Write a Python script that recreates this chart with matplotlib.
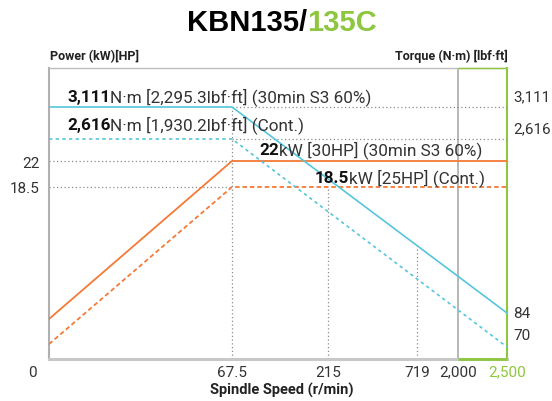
import numpy as np
import matplotlib
matplotlib.use("Agg")
import matplotlib.pyplot as plt

# values
speed_ticks = [67.5, 215, 719, 2000, 2500]
speed_tick_labels = ["67.5", "215", "719", "2,000", "2,500"]
power_ticks = [18.5, 22]
power_tick_labels = ["18.5", "22"]
torque_ticks = [3111, 2616, 84, 70]
torque_tick_labels = ["3,111", "2,616", "84", "70"]

power_speed = [0, 67.5, 2500]
power_s3 = [4.3, 22, 22]
power_cont = [1.6, 18.5, 18.5]

torque_speed = [0, 67.5, 2500]
torque_s3 = [3111, 3111, 84]
torque_cont = [2616, 2616, 70]

ORANGE = "#f47a36"
CYAN = "#55c6dc"
GREEN = "#8dc63f"
GRAY = "#aaaaaa"
TXT = "#333333"

# the chart is schematic: axes are piecewise, not linear
sx_val = [0, 67.5, 215, 719, 2000, 2500]
sx_pos = [0, 183, 279, 368, 409, 458]
sp_val = [0, 18.5, 22, 34.5]
sp_pos = [0, 172, 198, 291]
st_val = [65, 70, 84, 2616, 3111, 3714]
st_pos = [0, 12, 46, 220, 252, 291]


def piecewise(vals, pos):
    fwd = lambda v: np.interp(v, vals, pos)
    inv = lambda p: np.interp(p, pos, vals)
    return fwd, inv


fx, fx_inv = piecewise(sx_val, sx_pos)
fp, fp_inv = piecewise(sp_val, sp_pos)
ft, ft_inv = piecewise(st_val, st_pos)

W, H = 552, 402
fig = plt.figure(figsize=(W / 100, H / 100), dpi=100)
renderer = fig.canvas.get_renderer()

ax = fig.add_axes([49 / W, 42 / H, 458 / W, 291 / H])
ax.set_xscale("function", functions=(fx, fx_inv))
ax.set_yscale("function", functions=(fp, fp_inv))
ax.set_xlim(0, 2500)
ax.set_ylim(0, 34.5)

ax2 = ax.twinx()
ax2.set_yscale("function", functions=(ft, ft_inv))
ax2.set_ylim(65, 3714)
ax2.set_yticks([])
for s in ax2.spines.values():
    s.set_visible(False)

# guide lines
dot = dict(color="#8c8c8c", lw=0.9, ls=(0, (1, 2)), zorder=1)
ax.hlines(power_ticks, 0, 67.5, **dot)
ax2.hlines(torque_ticks[:2], 67.5, 2500, **dot)
ax.axvline(67.5, ymax=ft(3111) / 291, **dot)
ax.axvline(215, ymax=fp(18.5) / 291, **dot)
# 719 line stops at the S3 torque curve
u0, u1 = fx(67.5), fx(2500)
t719 = np.interp(fx(719), [u0, u1], [ft(3111), ft(84)])
ax.axvline(719, ymax=t719 / 291, **dot)
ax.axvline(2000, color=GRAY, lw=1.2, zorder=1)

# curves
ax.plot(power_speed, power_s3, color=ORANGE, lw=1.3, zorder=3)
ax.plot(power_speed, power_cont, color=ORANGE, lw=1.3, dashes=(2.5, 1.6), zorder=3)
ax2.plot(torque_speed, torque_s3, color=CYAN, lw=1.2, zorder=3)
ax2.plot(torque_speed, torque_cont, color=CYAN, lw=1.2, dashes=(2, 2), zorder=3)

# frame
ax.spines["left"].set_color("#b0b0b0")
ax.spines["left"].set_linewidth(1.5)
ax.spines["top"].set_color("#bdbdbd")
ax.spines["top"].set_linewidth(1.0)
ax.spines["bottom"].set_color("#c8c8c8")
ax.spines["bottom"].set_linewidth(2.2)
ax.spines["right"].set_color(GREEN)
ax.spines["right"].set_linewidth(1.5)
ax.hlines([0, 1], 2000, 2500, transform=ax.get_xaxis_transform(),
          color=GREEN, lw=[2.0, 1.0], clip_on=False, zorder=5)

ax.set_xticks(speed_ticks)
ax.set_xticklabels(speed_tick_labels)
ax.set_yticks(power_ticks)
ax.set_yticklabels(power_tick_labels)
ax.minorticks_off()
ax.tick_params(axis="both", length=0, labelsize=11, labelcolor=TXT,
               labelfontfamily="Roboto")
ax.tick_params(axis="x", pad=4)
ax.tick_params(axis="y", pad=7)
ax.get_xticklabels()[-1].set_color(GREEN)


def rich(px, py, parts, size=11, ha="left", family="Roboto"):
    texts = []
    x = px
    for s, w, c in parts:
        t = fig.text(x / W, 1 - py / H, s, fontsize=size, fontweight=w,
                     color=c, family=family, va="baseline", ha="left")
        x += t.get_window_extent(renderer).width
        texts.append(t)
    if ha == "center":
        shift = (x - px) / 2
        for t in texts:
            xx, yy = t.get_position()
            t.set_position((xx - shift / W, yy))
    return texts


# title
rich(282, 31, [("KBN135/", "bold", "black"), ("135C", "bold", GREEN)],
     size=21, ha="center", family="Liberation Sans")

# axis titles
fig.text(50 / W, 1 - 60 / H, "Power (kW)[HP]", fontsize=9, fontweight="bold",
         color="#222222", family="Roboto", va="baseline", ha="left")
fig.text(508 / W, 1 - 60 / H, "Torque (N\u00b7m) [lbf\u00b7ft]", fontsize=9,
         fontweight="bold", color="#222222", family="Roboto",
         va="baseline", ha="right")
fig.text(282 / W, 1 - 395 / H, "Spindle Speed (r/min)", fontsize=10.5,
         fontweight="bold", color="#222222", family="Roboto",
         va="baseline", ha="center")
fig.text(32 / W, 1 - 377 / H, "0", fontsize=11, color=TXT, family="Roboto",
         va="baseline", ha="center")

# right side torque labels
right_base = [101, 133, 318, 340]
for lab, yb in zip(torque_tick_labels, right_base):
    fig.text(513 / W, 1 - yb / H, lab, fontsize=11, color=TXT,
             family="Roboto", va="baseline", ha="left")

# curve annotations
ann_size = 12.3
rich(67, 102, [("3,111", "bold", "#111111"),
               ("N\u00b7m [2,295.3lbf\u00b7ft] (30min S3 60%)", "normal", TXT)], size=ann_size)
rich(67, 130, [("2,616", "bold", "#111111"),
               ("N\u00b7m [1,930.2lbf\u00b7ft] (Cont.)", "normal", TXT)], size=ann_size)
rich(259, 155, [("22", "bold", "#111111"),
                ("kW [30HP] (30min S3 60%)", "normal", TXT)], size=ann_size)
rich(315, 183, [("18.5", "bold", "#111111"),
                ("kW [25HP] (Cont.)", "normal", TXT)], size=ann_size)

fig.savefig("out.png", dpi=100)
